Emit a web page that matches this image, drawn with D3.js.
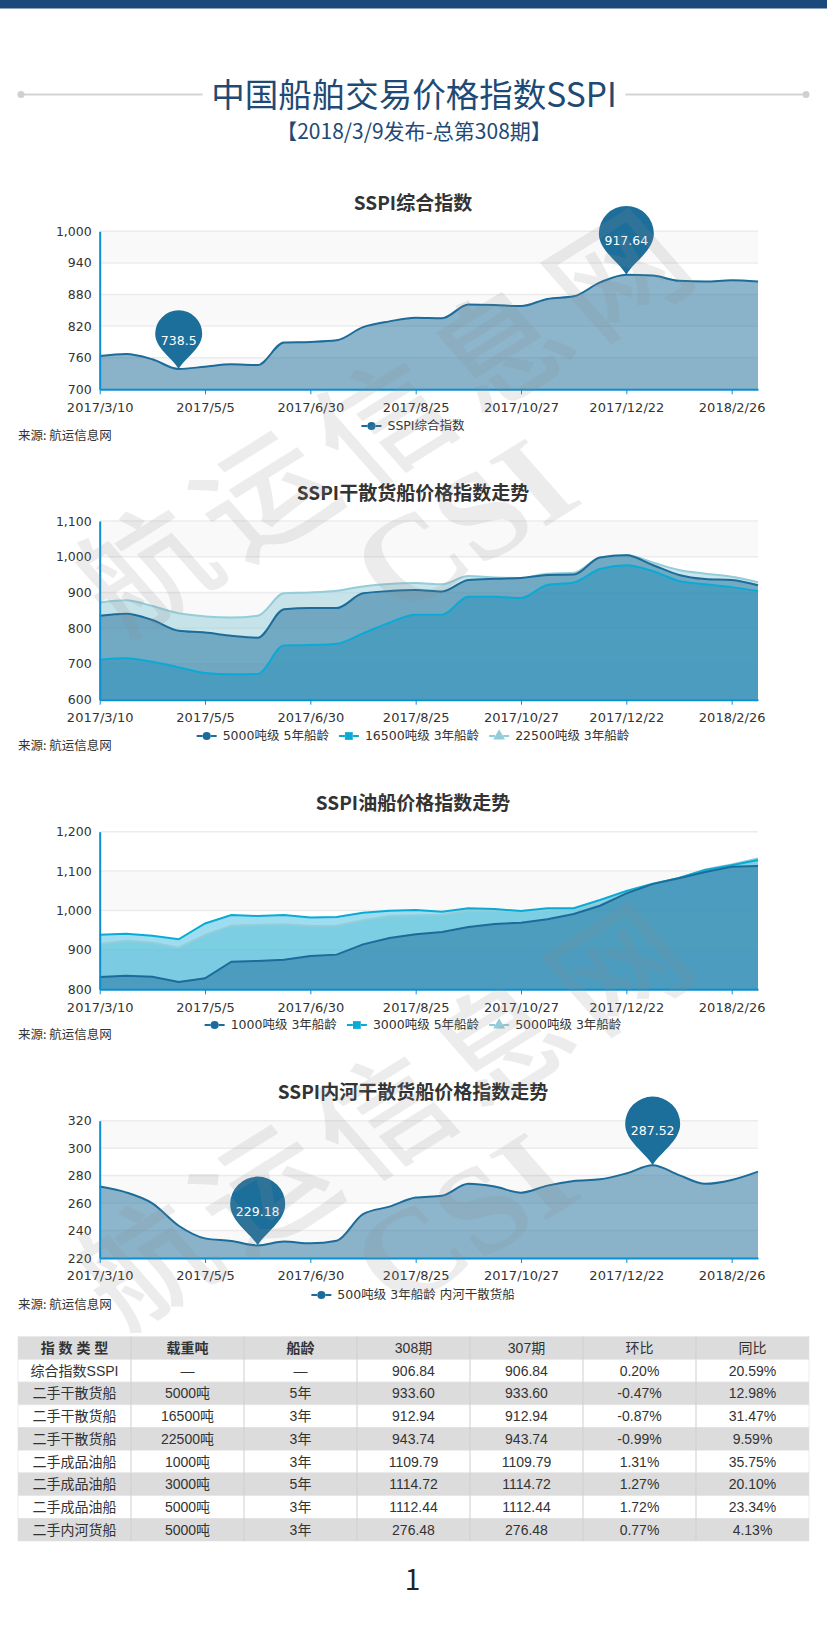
<!DOCTYPE html>
<html lang="zh">
<meta charset="utf-8">
<style>
html, body { margin: 0; padding: 0; background: #fff; }
svg { display: block; }
text { font-family: "DejaVu Sans", "Noto Sans CJK SC", sans-serif; }
</style>
<body>
<script src="https://d3js.org/d3.v7.min.js"></script>
<script>
// dates of the issues, one every two weeks
var dates = ["2017/3/10","2017/3/24","2017/4/7","2017/4/21","2017/5/5","2017/5/19","2017/6/2","2017/6/16","2017/6/30",
  "2017/7/14","2017/7/28","2017/8/11","2017/8/25","2017/9/8","2017/9/22","2017/10/13","2017/10/27","2017/11/10",
  "2017/11/24","2017/12/8","2017/12/22","2018/1/5","2018/1/19","2018/2/2","2018/2/26","2018/3/9"];
var dateTicks = ["2017/3/10","2017/5/5","2017/6/30","2017/8/25","2017/10/27","2017/12/22","2018/2/26"];

var composite = [763,767,757,738.5,743,747.5,746,789,790,793,818,829,836,835,861,860,858,871.5,876.5,903,917.64,916,906,904.5,907,904.5];

var bulk5000 = [835,840.7,823,793,788,779,773.5,853,856.5,856.5,897.6,904,907,903,935,938.6,940.5,949,950,998,1004,977,949,937.7,935,920];
var bulk16500 = [712,715.7,706,690.5,674.6,671,672,752,753,756.7,785.6,815.5,838,838,888,888,884.5,921,928,965.7,976,960,932,923,915,904];
var bulk22500 = [872,878,862,841.6,833,830,835,897.6,900,905,917,923.7,926.5,923,946,942,940.5,952.6,955,998,1005,984,963,952.6,944,929];

var tanker1000 = [831,834.7,832,818.6,828,870,872,875,884.6,888,914,930,940,945.5,958,965.7,969,978,991,1012,1043.5,1067,1081.6,1097.6,1111,1113];
var tanker3000 = [938.7,941,936,927,967,988.6,986,988.6,982,983.5,994.5,999.6,1001,997,1005.5,1004,998.7,1005.5,1006,1026.6,1049.5,1068,1082.4,1102.7,1115,1128];
var tanker5000 = [915,923.5,918.4,905.7,938,961.5,963,965,960.7,961.5,975,986,987.7,989.4,1000,1000,998.7,1001,1003.8,1020,1047.8,1067,1082.4,1104.4,1117,1132];

var river500 = [272,267.8,259.8,243.5,234.3,232.4,229.18,232,230.7,232.6,252,257.4,264,265.4,274,272,267.6,272.7,276,277.3,281.6,287.52,280.4,274,276.8,282.9];

var tableHeader = ["指 数 类 型","载重吨","船龄","308期","307期","环比","同比"];
var tableRows = [
  ["综合指数SSPI","—","—","906.84","906.84","0.20%","20.59%"],
  ["二手干散货船","5000吨","5年","933.60","933.60","-0.47%","12.98%"],
  ["二手干散货船","16500吨","3年","912.94","912.94","-0.87%","31.47%"],
  ["二手干散货船","22500吨","3年","943.74","943.74","-0.99%","9.59%"],
  ["二手成品油船","1000吨","3年","1109.79","1109.79","1.31%","35.75%"],
  ["二手成品油船","3000吨","5年","1114.72","1114.72","1.27%","20.10%"],
  ["二手成品油船","5000吨","3年","1112.44","1112.44","1.72%","23.34%"],
  ["二手内河货船","5000吨","3年","276.48","276.48","0.77%","4.13%"]
];

var DARK = "#1b6c9a", MID = "#09abd6", LIGHT = "#93cdd9";
var AXIS_BLUE = "#0b8fd3";
var W = 827, H = 1626;
var plotLeft = 99.7, plotRight = 758;

var svg = d3.select("body").append("svg").attr("width", W).attr("height", H);
svg.append("rect").attr("width", W).attr("height", H).attr("fill", "#fff");

// header
svg.append("rect").attr("width", W).attr("height", 8.5).attr("fill", "#1a4a7c");
var titleGroup = svg.append("g");
[[21, 202.5], [625.5, 806]].forEach(function(seg, i) {
  titleGroup.append("line").attr("x1", seg[0]).attr("x2", seg[1]).attr("y1", 94.5).attr("y2", 94.5)
    .attr("stroke", "#d4d4d4").attr("stroke-width", 2);
  titleGroup.append("circle").attr("cx", i ? seg[1] : seg[0]).attr("cy", 94.5).attr("r", 3.5).attr("fill", "#d0d0d0");
});
titleGroup.append("text").attr("x", 414).attr("y", 106.5).attr("text-anchor", "middle")
  .style("font-family", '"Noto Sans CJK SC"').style("font-size", "33.5px").attr("fill", "#1f4a75")
  .text("中国船舶交易价格指数SSPI");
titleGroup.append("text").attr("x", 414).attr("y", 139).attr("text-anchor", "middle")
  .style("font-family", '"Noto Sans CJK SC"').style("font-size", "21px").attr("fill", "#1f4a75")
  .text("【2018/3/9发布-总第308期】");

function drawChart(cfg) {
  var x = d3.scalePoint().domain(dates).range([plotLeft, plotRight]);
  var y = d3.scaleLinear().domain(cfg.domain).range([cfg.bottom, cfg.top]);
  var ticks = d3.range(cfg.domain[0], cfg.domain[1] + 1, cfg.step);
  var g = svg.append("g");

  g.append("text").attr("x", 413).attr("y", cfg.top - 21.5).attr("text-anchor", "middle")
    .style("font-size", "19px").style("font-weight", "bold")
    .style("font-family", '"Noto Sans CJK SC"').attr("fill", "#333").text(cfg.title);

  // bands counted from the bottom, every other one is grey
  ticks.slice(0, -1).forEach(function(t, i) {
    if (i % 2 == 0) {
      g.append("rect").attr("x", plotLeft).attr("width", plotRight - plotLeft)
        .attr("y", y(t + cfg.step)).attr("height", y(t) - y(t + cfg.step)).attr("fill", "#f9f9f9");
    }
  });
  g.selectAll("line.split").data(ticks).enter().append("line").attr("class", "split")
    .attr("x1", plotLeft).attr("x2", plotRight).attr("y1", function(d) { return y(d); }).attr("y2", function(d) { return y(d); })
    .attr("stroke", "#ececec").attr("stroke-width", 1.5);

  var curve = cfg.straight ? d3.curveLinear : d3.curveMonotoneX;
  var area = d3.area().x(function(d, i) { return x(dates[i]); }).y0(cfg.bottom).y1(function(d) { return y(d); }).curve(curve);
  var line = d3.line().x(function(d, i) { return x(dates[i]); }).y(function(d) { return y(d); }).curve(curve);

  // the first series is painted last
  cfg.series.slice().reverse().forEach(function(s) {
    g.append("path").datum(s.values).attr("d", area).attr("fill", s.color).attr("fill-opacity", s.alpha);
  });
  cfg.series.slice().reverse().forEach(function(s) {
    g.append("path").datum(s.values).attr("d", line).attr("fill", "none").attr("stroke", s.color).attr("stroke-width", 2);
  });

  var xAxis = d3.axisBottom(x).tickValues(dateTicks).tickSize(5).tickSizeOuter(0).tickPadding(8);
  var yAxis = d3.axisLeft(y).tickValues(ticks).tickFormat(d3.format(",")).tickSize(0).tickPadding(8);
  var gx = g.append("g").attr("transform", "translate(0," + cfg.bottom + ")").call(xAxis);
  var gy = g.append("g").attr("transform", "translate(" + plotLeft + ",0)").call(yAxis);
  gx.selectAll("path, line").attr("stroke", AXIS_BLUE);
  gx.select("path").attr("stroke-width", 2);
  gy.select("path").attr("stroke", AXIS_BLUE).attr("stroke-width", 2);
  gx.selectAll("text").style("font-size", "13px").attr("fill", "#333");
  gy.selectAll("text").style("font-size", "12.5px").attr("fill", "#333");

  (cfg.pins || []).forEach(function(p) {
    var tipX = x(dates[p.index]), tipY = y(cfg.series[0].values[p.index]);
    var w = p.label.length > 5 ? 55 : 47, h = w * 1.25, r = w / 2, cy = tipY - h + r;
    var pin = d3.path();
    pin.moveTo(tipX, tipY);
    pin.bezierCurveTo(tipX - r * 0.25, tipY - h * 0.18, tipX - r, cy + r * 0.62, tipX - r, cy);
    pin.arc(tipX, cy, r, Math.PI, 0);
    pin.bezierCurveTo(tipX + r, cy + r * 0.62, tipX + r * 0.25, tipY - h * 0.18, tipX, tipY);
    g.append("path").attr("d", pin.toString()).attr("fill", "#1c6e9b");
    g.append("text").attr("x", tipX).attr("y", cy + 7).attr("dy", "0.35em").attr("text-anchor", "middle")
      .style("font-size", "12.5px").attr("fill", "#fff").text(p.label);
  });

  // legend, centred from the measured labels
  var legend = g.append("g");
  var cursor = 0;
  cfg.series.forEach(function(s) {
    var item = legend.append("g").attr("transform", "translate(" + cursor + ",0)");
    item.append("line").attr("x1", 0).attr("x2", 6).attr("stroke", s.color).attr("stroke-width", 2);
    item.append("line").attr("x1", 14).attr("x2", 20).attr("stroke", s.color).attr("stroke-width", 2);
    item.append("path").attr("transform", "translate(10,0)")
      .attr("d", d3.symbol().type(s.shape).size(s.shape === d3.symbolCircle ? 52 : 60)).attr("fill", s.color);
    var label = item.append("text").attr("x", 26).attr("dy", "0.35em").style("font-size", "12.5px").attr("fill", "#333").text(s.name);
    cursor += 26 + label.node().getComputedTextLength() + 10;
  });
  legend.attr("transform", "translate(" + (413 - (cursor - 10) / 2) + "," + cfg.legendY + ")");

  g.append("text").attr("x", 18).attr("y", cfg.legendY + 9 + 4.5).style("font-size", "12.5px")
    .style("font-family", '"Noto Sans CJK SC"').attr("fill", "#333").text("来源: 航运信息网");
}

drawChart({
  title: "SSPI综合指数", domain: [700, 1000], step: 60, top: 231.3, bottom: 389.3, legendY: 426,
  series: [{ name: "SSPI综合指数", values: composite, color: DARK, alpha: 0.5, shape: d3.symbolCircle }],
  pins: [{ index: 3, label: "738.5" }, { index: 20, label: "917.64" }]
});
drawChart({
  title: "SSPI干散货船价格指数走势", domain: [600, 1100], step: 100, top: 521, bottom: 699.7, legendY: 736,
  series: [
    { name: "5000吨级 5年船龄", values: bulk5000, color: DARK, alpha: 0.5, shape: d3.symbolCircle },
    { name: "16500吨级 3年船龄", values: bulk16500, color: MID, alpha: 0.4, shape: d3.symbolSquare },
    { name: "22500吨级 3年船龄", values: bulk22500, color: LIGHT, alpha: 0.5, shape: d3.symbolTriangle }
  ]
});
drawChart({
  title: "SSPI油船价格指数走势", domain: [800, 1200], step: 100, top: 831.7, bottom: 989.3, legendY: 1025, straight: true,
  series: [
    { name: "1000吨级 3年船龄", values: tanker1000, color: DARK, alpha: 0.5, shape: d3.symbolCircle },
    { name: "3000吨级 5年船龄", values: tanker3000, color: MID, alpha: 0.4, shape: d3.symbolSquare },
    { name: "5000吨级 3年船龄", values: tanker5000, color: LIGHT, alpha: 0.5, shape: d3.symbolTriangle }
  ]
});
drawChart({
  title: "SSPI内河干散货船价格指数走势", domain: [220, 320], step: 20, top: 1120.7, bottom: 1258, legendY: 1295,
  series: [{ name: "500吨级 3年船龄 内河干散货船", values: river500, color: DARK, alpha: 0.5, shape: d3.symbolCircle }],
  pins: [{ index: 6, label: "229.18" }, { index: 21, label: "287.52" }]
});

// summary table
var columns = d3.scaleBand().domain(d3.range(tableHeader.length)).range([18, 809]);
var rows = d3.scaleBand().domain(d3.range(tableRows.length + 1)).range([1336.7, 1541]);
var table = svg.append("g");
[tableHeader].concat(tableRows).forEach(function(row, r) {
  table.append("rect").attr("x", 18).attr("width", 791).attr("y", rows(r)).attr("height", rows.bandwidth())
    .attr("fill", r % 2 == 0 ? "#dcdcdc" : "#fff").attr("stroke", "#e2e2e2").attr("stroke-width", 0.6);
  row.forEach(function(cell, c) {
    table.append("text").attr("x", columns(c) + columns.bandwidth() / 2).attr("y", rows(r) + rows.bandwidth() / 2)
      .attr("dy", "0.36em").attr("text-anchor", "middle")
      .style("font-family", '"Liberation Sans", "Noto Sans CJK SC"').style("font-size", "14px")
      .style("font-weight", (r == 0 && c < 3) ? "bold" : "normal").attr("fill", "#333").text(cell);
  });
});
table.selectAll("line").data(d3.range(1, tableHeader.length)).enter().append("line")
  .attr("x1", function(d) { return columns(d); }).attr("x2", function(d) { return columns(d); })
  .attr("y1", 1336.7).attr("y2", 1541).attr("stroke", "#cfcfcf").attr("stroke-width", 1);

svg.append("text").attr("x", 412.5).attr("y", 1590).attr("text-anchor", "middle")
  .style("font-family", '"Noto Sans CJK SC"').style("font-size", "28px").attr("fill", "#222").text("1");

// two copies of the watermark across the page, the glyphs are slightly sheared
var markShear = "matrix(0.85,-0.53,0.66,0.75,0,0)";
[0, 694].forEach(function(dy) {
  var mark = svg.append("g").attr("fill", "#8c8c8c").attr("fill-opacity", 0.17).style("pointer-events", "none");
  mark.append("text").attr("transform", "translate(390," + (420 + dy) + ") " + markShear)
    .attr("dy", "0.35em").attr("text-anchor", "middle")
    .style("font-family", '"Noto Sans CJK SC"').style("font-size", "125px").style("font-weight", 500)
    .style("letter-spacing", "14px").text("航运信息网");
  mark.append("text").attr("transform", "translate(462," + (525 + dy) + ") " + markShear)
    .attr("dy", "0.35em").attr("text-anchor", "middle")
    .style("font-family", '"Liberation Serif"').style("font-size", "132px").style("font-weight", "bold").text("CSI");
});
</script>
</body>
</html>
